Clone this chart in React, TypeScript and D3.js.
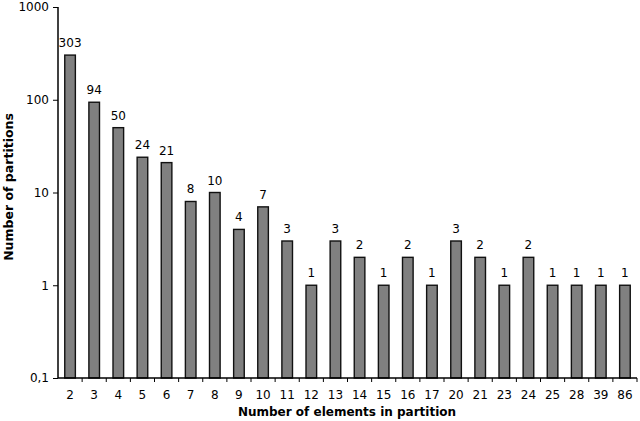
import React, { useEffect, useRef } from 'react';
import * as d3 from 'd3';

const categories = ['2', '3', '4', '5', '6', '7', '8', '9', '10', '11', '12', '13', '14', '15', '16', '17', '20', '21', '23', '24', '25', '28', '39', '86'];
const counts = [303, 94, 50, 24, 21, 8, 10, 4, 7, 3, 1, 3, 2, 1, 2, 1, 3, 2, 1, 2, 1, 1, 1, 1];
const yTicks = [0.1, 1, 10, 100, 1000];

const App = () => {
  const ref = useRef<SVGSVGElement>(null);

  useEffect(() => {
    const width = 640;
    const height = 421;
    const margin = { top: 7, right: 3, bottom: 43, left: 58 };
    const font = 'Verdana, "DejaVu Sans", sans-serif';

    const svg = d3.select(ref.current);
    svg.selectAll('*').remove();

    const x = d3
      .scaleBand()
      .domain(categories)
      .range([margin.left, width - margin.right])
      .paddingInner(0.56)
      .paddingOuter(0.28);

    const y = d3
      .scaleLog()
      .domain([0.1, 1000])
      .range([height - margin.bottom, margin.top]);

    const data = categories.map((c, i) => ({ c, v: counts[i] }));

    svg
      .append('g')
      .selectAll('rect')
      .data(data)
      .join('rect')
      .attr('x', (d) => x(d.c)!)
      .attr('y', (d) => y(d.v))
      .attr('width', x.bandwidth())
      .attr('height', (d) => y(0.1) - y(d.v))
      .attr('fill', '#808080')
      .attr('stroke', '#111')
      .attr('stroke-width', 1.4);

    svg
      .append('g')
      .selectAll('text')
      .data(data)
      .join('text')
      .attr('x', (d) => x(d.c)! + x.bandwidth() / 2)
      .attr('y', (d) => y(d.v) - 8)
      .attr('text-anchor', 'middle')
      .attr('fill', '#000')
      .style('font-family', font)
      .style('font-size', '12px')
      .text((d) => d.v);

    // y axis
    const yAxis = svg
      .append('g')
      .attr('transform', `translate(${margin.left}, 0)`)
      .call(
        d3
          .axisLeft(y)
          .tickValues(yTicks)
          .tickSize(5)
          .tickPadding(4)
          .tickFormat((d) => String(d).replace('.', ','))
      );
    yAxis.select('.domain').attr('stroke', '#000').attr('stroke-width', 1.5).attr('d', `M0,${margin.top}V${y(0.1)}`);
    yAxis.selectAll('text').style('font-family', font).style('font-size', '12px').attr('fill', '#000');

    // x axis with ticks between categories
    const xAxis = svg
      .append('g')
      .attr('transform', `translate(0, ${y(0.1)})`);
    xAxis
      .append('line')
      .attr('x1', margin.left)
      .attr('x2', width - margin.right)
      .attr('stroke', '#000')
      .attr('stroke-width', 1.5);
    const step = x.step();
    xAxis
      .selectAll('line.tick')
      .data(categories)
      .join('line')
      .attr('class', 'tick')
      .attr('x1', (d) => x(d)! - x.paddingOuter() * step + step)
      .attr('x2', (d) => x(d)! - x.paddingOuter() * step + step)
      .attr('y1', 0)
      .attr('y2', 4)
      .attr('stroke', '#000');
    xAxis
      .selectAll('text')
      .data(categories)
      .join('text')
      .attr('x', (d) => x(d)! + x.bandwidth() / 2)
      .attr('y', 21)
      .attr('text-anchor', 'middle')
      .attr('fill', '#000')
      .style('font-family', font)
      .style('font-size', '12px')
      .text((d) => d);

    svg
      .append('text')
      .attr('x', 347)
      .attr('y', 416)
      .attr('text-anchor', 'middle')
      .style('font-family', font)
      .style('font-size', '12px')
      .style('font-weight', 'bold')
      .text('Number of elements in partition');

    svg
      .append('text')
      .attr('transform', 'rotate(-90)')
      .attr('x', -187)
      .attr('y', 13)
      .attr('text-anchor', 'middle')
      .style('font-family', font)
      .style('font-size', '12.5px')
      .style('font-weight', 'bold')
      .text('Number of partitions');
  }, []);

  return (
    <svg
      ref={ref}
      width={640}
      height={421}
      style={{ position: 'absolute', left: 0, top: 0, background: '#fff' }}
    />
  );
};

export default App;
